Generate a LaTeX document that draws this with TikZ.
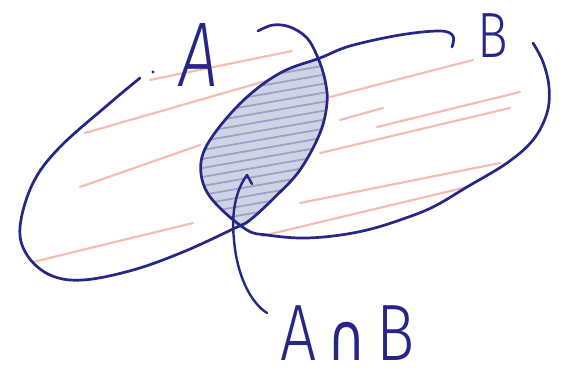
\documentclass[tikz,border=0pt]{standalone}
\usepackage{fontspec}
\newfontfamily\handfont{Fira Sans Light}
\newfontfamily\handslant{Fira Sans Light Italic}
\newfontfamily\symfont{DejaVu Sans}
\usepackage{tikz}
\usetikzlibrary{positioning}
\usepackage{xcolor}
\definecolor{ink}{RGB}{38,38,135}
\definecolor{crayon}{RGB}{243,178,168}
\definecolor{lensfill}{RGB}{208,211,228}
\definecolor{streak}{RGB}{140,145,190}

\begin{document}
\begin{tikzpicture}[x=1pt, y=-1pt,
    outline/.style={draw=ink, line width=2.7pt, line cap=round, line join=round},
    crayonline/.style={draw=crayon, line width=2.2pt, line cap=round, opacity=0.85},
    streakline/.style={draw=streak, line width=1.8pt, line cap=round, opacity=0.75},
    setlabel/.style={text=ink, inner sep=0pt}]
      \path[use as bounding box, fill=white] (0,0) rectangle (565,383);
      \foreach \xa/\ya/\xb/\yb in {150/80/292/51, 85/133/290/74, 80/187/200/145,
          33/262/193/223, 330/97/473/60, 340/120/383/108, 377/127/520/92,
          320/153/510/108, 300/203/500/163, 262/236/467/187}
        \draw[crayonline] (\xa,\ya) -- (\xb,\yb);
      \begin{scope}
        \clip plot[smooth cycle, tension=0.6] coordinates {(148,75) (110,103)
          (60,147) (33,183) (20,227) (23,250) (37,267) (67,278) (117,278)
          (167,263) (200,248) (233,232) (250,222) (275,197) (300,170)
          (320,133) (327,103) (325,80) (318,58) (307,38) (287,26) (262,28)
          (205,45)};
        \clip plot[smooth cycle, tension=0.6] coordinates {(452,48) (449,36)
          (433,31) (400,35) (350,46) (320,58) (282,72) (247,97) (217,130)
          (202,157) (203,183) (217,205) (240,228) (262,238) (300,240)
          (333,237) (367,230) (400,220) (433,207) (467,187) (507,163)
          (533,140) (547,113) (549,87) (543,62) (533,45) (495,40)};
        \fill[lensfill] (180,20) rectangle (350,260);
        \foreach \y in {40,49,...,260}
          \draw[streakline] (185,\y+14) -- (345,\y-14);
      \end{scope}
      \draw[outline] plot[smooth, tension=0.6] coordinates {(140,78) (110,103)
        (60,147) (33,183) (20,227) (27,255) (50,275) (83,280) (133,270)
        (183,252) (233,229) (250,220) (275,197) (300,170)
        (320,133) (327,103) (325,80) (318,58) (307,38) (290,27) (273,25)
        (258,31)};
      \fill[ink] (153,72) circle (1.7);
      \draw[outline] plot[smooth, tension=0.6] coordinates {(452,47) (453,36)
        (440,31) (400,35) (350,46) (320,58) (282,72) (247,97) (217,130)
        (202,157) (203,183) (217,205) (247,230) (267,235) (300,238)
        (333,236) (367,230) (400,220) (433,207) (467,187) (507,163)
        (533,140) (547,113) (549,87) (543,62) (533,43)};
      \node[setlabel, font=\handslant\fontsize{92}{92}\selectfont, xscale=0.75]
        (labelA) at (199,55) {A};
      \node[setlabel, font=\handfont\fontsize{64}{64}\selectfont, xscale=0.8]
        (labelB) at (493,36) {B};
      \node[setlabel, font=\handfont\fontsize{80}{80}\selectfont, xscale=0.8]
        (labelAB) at (348,333) {A\,{\symfont\fontsize{66}{66}\selectfont ∩}\,B};
      \coordinate (hook) at (252,184);
      \coordinate (tail) at (267,313);
      \draw[outline, line width=2.4pt] (hook) -- (247,175)
        .. controls (236,190) and (231,212) .. (234,240)
        .. controls (237,275) and (250,302) .. (tail);
    \end{tikzpicture}
\end{document}
